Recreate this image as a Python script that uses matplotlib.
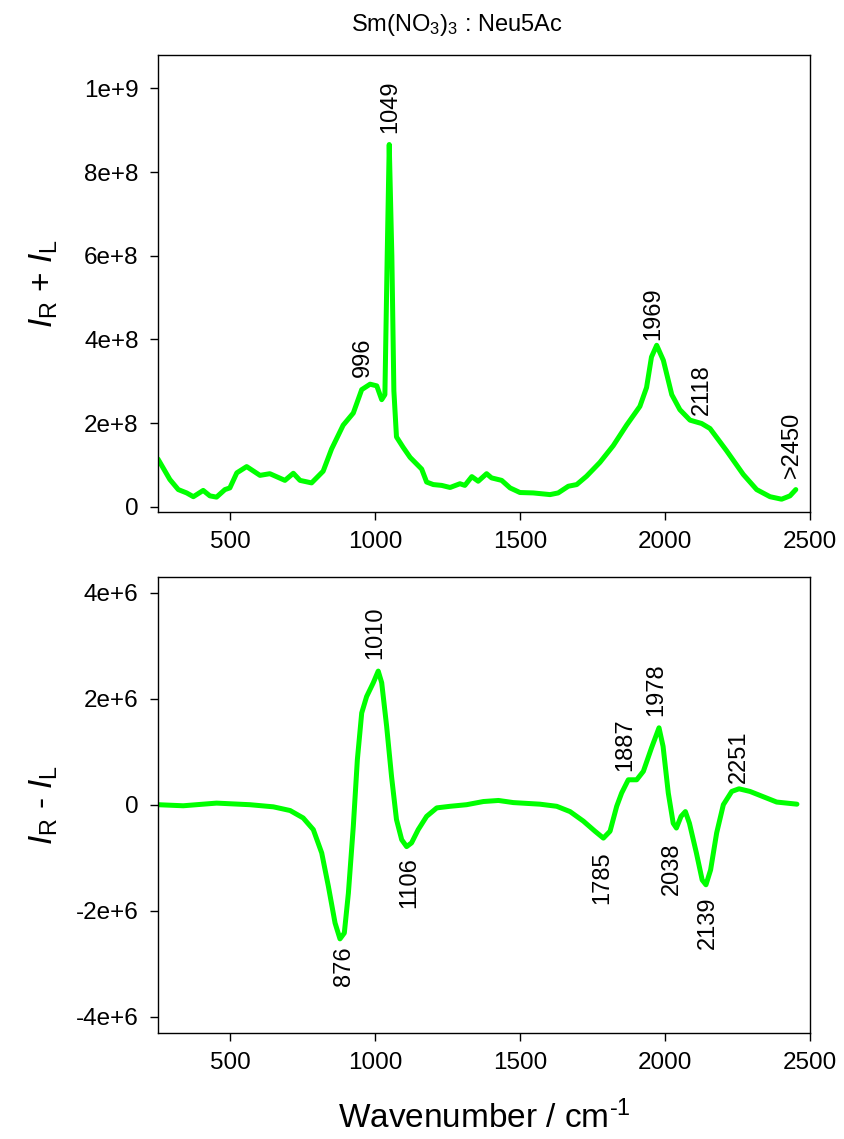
import matplotlib
matplotlib.use("Agg")
import matplotlib.pyplot as plt

plt.rcParams["font.family"] = ["Liberation Sans", "DejaVu Sans"]
plt.rcParams["mathtext.fontset"] = "custom"
plt.rcParams["mathtext.rm"] = "Liberation Sans"
plt.rcParams["mathtext.it"] = "Liberation Sans:italic"
plt.rcParams["axes.unicode_minus"] = False

# I_R + I_L spectrum
sum_x = [250, 291, 320, 349, 372, 406, 429, 452, 481, 498, 522, 556, 602, 636, 688, 717,
         740, 780, 820, 849, 889, 924, 953, 982, 1005, 1022, 1033, 1041, 1048, 1057, 1064,
         1073, 1096, 1120, 1160, 1177, 1200, 1229, 1258, 1292, 1309, 1333, 1355, 1384,
         1401, 1436, 1465, 1499, 1545, 1603, 1631, 1666, 1695, 1729, 1775, 1821, 1867,
         1913, 1936, 1953, 1971, 1994, 2023, 2051, 2086, 2126, 2155, 2212, 2270, 2316,
         2362, 2402, 2431, 2451]
sum_y = [1.14e8, 0.65e8, 0.41e8, 0.33e8, 0.24e8, 0.39e8, 0.26e8, 0.23e8, 0.41e8, 0.45e8,
         0.81e8, 0.96e8, 0.75e8, 0.79e8, 0.63e8, 0.80e8, 0.63e8, 0.57e8, 0.85e8, 1.38e8,
         1.95e8, 2.24e8, 2.80e8, 2.93e8, 2.89e8, 2.56e8, 2.68e8, 6.0e8, 8.66e8, 6.0e8,
         2.77e8, 1.67e8, 1.42e8, 1.18e8, 0.90e8, 0.59e8, 0.53e8, 0.51e8, 0.46e8, 0.55e8,
         0.51e8, 0.72e8, 0.61e8, 0.79e8, 0.69e8, 0.63e8, 0.45e8, 0.34e8, 0.33e8, 0.29e8,
         0.33e8, 0.49e8, 0.53e8, 0.73e8, 1.06e8, 1.46e8, 1.95e8, 2.40e8, 2.85e8, 3.58e8,
         3.86e8, 3.50e8, 2.68e8, 2.32e8, 2.07e8, 1.99e8, 1.87e8, 1.34e8, 0.77e8, 0.41e8,
         0.24e8, 0.18e8, 0.26e8, 0.41e8]

# I_R - I_L spectrum
diff_x = [250, 337, 452, 567, 648, 706, 751, 786, 815, 838, 861, 878, 893, 907, 924, 938,
          953, 970, 993, 1010, 1022, 1039, 1056, 1073, 1091, 1108, 1125, 1148, 1177, 1212,
          1258, 1315, 1373, 1425, 1476, 1568, 1626, 1672, 1718, 1758, 1787, 1810, 1833,
          1850, 1873, 1902, 1925, 1953, 1979, 1993, 2011, 2028, 2039, 2055, 2070, 2084,
          2108, 2128, 2141, 2157, 2178, 2201, 2230, 2255, 2293, 2339, 2385, 2455]
diff_y = [0.0, -0.02e6, 0.03e6, 0.0, -0.04e6, -0.11e6, -0.25e6, -0.47e6, -0.91e6, -1.54e6,
          -2.23e6, -2.53e6, -2.42e6, -1.67e6, -0.41e6, 0.85e6, 1.73e6, 2.04e6, 2.30e6,
          2.52e6, 2.30e6, 1.48e6, 0.53e6, -0.28e6, -0.66e6, -0.79e6, -0.72e6, -0.47e6,
          -0.22e6, -0.06e6, -0.03e6, 0.0, 0.06e6, 0.08e6, 0.04e6, 0.01e6, -0.03e6, -0.13e6,
          -0.31e6, -0.50e6, -0.63e6, -0.50e6, -0.03e6, 0.22e6, 0.47e6, 0.47e6, 0.63e6,
          1.07e6, 1.45e6, 1.10e6, 0.22e6, -0.35e6, -0.44e6, -0.22e6, -0.13e6, -0.35e6,
          -0.91e6, -1.42e6, -1.51e6, -1.23e6, -0.53e6, 0.0, 0.25e6, 0.30e6, 0.25e6, 0.15e6,
          0.05e6, 0.01e6]

# peak labels: text, x, y, vertical anchor
top_labels = ["996", "1049", "1969", "2118", ">2450"]
top_lab_x = [958, 1050, 1959, 2126, 2437]
top_lab_y = [3.09e8, 8.94e8, 3.99e8, 2.2e8, 0.69e8]

bot_labels = ["876", "1010", "1106", "1785", "1887", "1978", "2038", "2139", "2251"]
bot_lab_x = [892, 999, 1117, 1784, 1862, 1971, 2023, 2149, 2253]
bot_lab_y = [-2.67e6, 2.74e6, -0.98e6, -0.88e6, 0.63e6, 1.67e6, -0.72e6, -1.73e6, 0.41e6]
bot_lab_va = ["top", "bottom", "top", "top", "bottom", "bottom", "top", "top", "bottom"]

xticks = [500, 1000, 1500, 2000, 2500]
top_yticks = [0, 2e8, 4e8, 6e8, 8e8, 1e9]
top_yticklabels = ["0", "2e+8", "4e+8", "6e+8", "8e+8", "1e+9"]
bot_yticks = [-4e6, -2e6, 0, 2e6, 4e6]
bot_yticklabels = ["-4e+6", "-2e+6", "0", "2e+6", "4e+6"]

green = "#00ff00"

fig = plt.figure(figsize=(8.44, 11.39), dpi=100)
ax1 = fig.add_axes([0.1872, 0.5507, 0.7725, 0.401])
ax2 = fig.add_axes([0.1872, 0.0933, 0.7725, 0.4004])

for ax in (ax1, ax2):
    ax.set_xlim(250, 2500)
    ax.set_xticks(xticks)
    ax.tick_params(axis="both", direction="out", length=6, width=1, pad=8,
                   labelsize=17.5, top=False, right=False)
    for s in ax.spines.values():
        s.set_linewidth(1)

ax1.plot(sum_x, sum_y, color=green, lw=3.6, solid_capstyle="round")
ax1.set_ylim(-1.2e7, 1.08e9)
ax1.set_yticks(top_yticks)
ax1.set_yticklabels(top_yticklabels)
ax1.set_ylabel(r"$\mathit{I}_\mathrm{R}$ + $\mathit{I}_\mathrm{L}$", fontsize=24)
ax1.yaxis.set_label_coords(-0.150, 0.5)
for t, x, y in zip(top_labels, top_lab_x, top_lab_y):
    ax1.text(x, y, t, rotation=90, ha="center", va="bottom", fontsize=17)

ax2.plot(diff_x, diff_y, color=green, lw=3.6, solid_capstyle="round")
ax2.set_ylim(-4.3e6, 4.3e6)
ax2.set_yticks(bot_yticks)
ax2.set_yticklabels(bot_yticklabels)
ax2.set_ylabel(r"$\mathit{I}_\mathrm{R}$ - $\mathit{I}_\mathrm{L}$", fontsize=24)
ax2.yaxis.set_label_coords(-0.150, 0.5)
for t, x, y, va in zip(bot_labels, bot_lab_x, bot_lab_y, bot_lab_va):
    ax2.text(x, y, t, rotation=90, ha="center", va=va, fontsize=17)

ax2.text(0.5, -0.187, r"Wavenumber / cm$^{\text{-1}}$", transform=ax2.transAxes,
         ha="center", va="center", fontsize=24)

fig.text(457 / 844, 1 - 25 / 1139, r"Sm(NO$_3$)$_3$ : Neu5Ac", ha="center", va="center",
         fontsize=17)

fig.savefig("out.png", dpi=100)
